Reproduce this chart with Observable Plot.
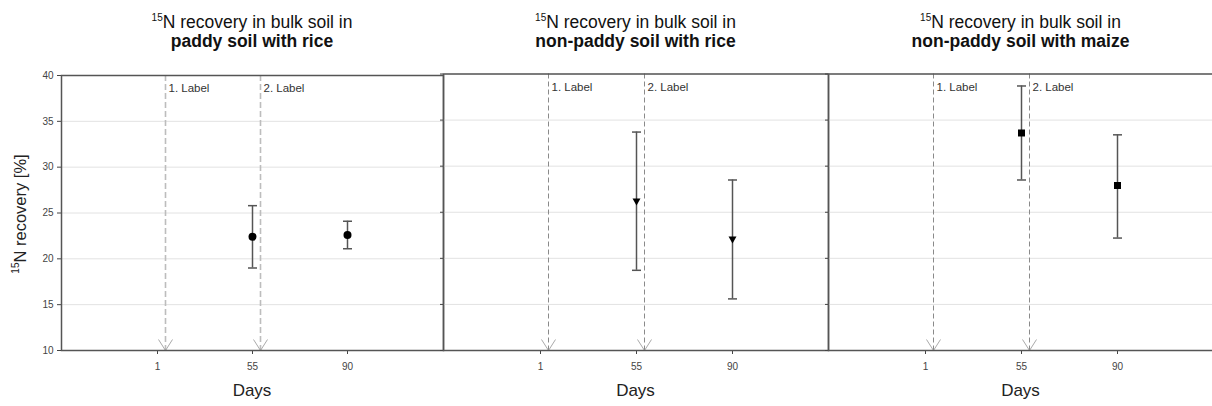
<!DOCTYPE html>
<html><head><meta charset="utf-8">
<script src="https://cdn.jsdelivr.net/npm/d3@7"></script>
<script src="https://cdn.jsdelivr.net/npm/@observablehq/plot@0.6"></script>
<style>
body{margin:0;background:#fff;font-family:"Liberation Sans",Arial,sans-serif;}
#root{position:relative;width:1212px;height:406px;overflow:hidden;background:#fff;}
.title{position:absolute;top:13px;text-align:center;font-size:17.5px;line-height:18.5px;color:#111;white-space:nowrap;transform:translateX(-50%);}
.title sup,.ylab sup{font-size:10px;vertical-align:0;position:relative;top:-7px;line-height:0;}
.title b{font-weight:bold;}
.xlab{position:absolute;top:381.5px;font-size:17px;line-height:17px;color:#222;white-space:nowrap;transform:translateX(-50%);}
.ylab{position:absolute;left:20px;top:214px;font-size:16.5px;line-height:18px;color:#222;white-space:nowrap;transform:translate(-50%,-50%) rotate(-90deg);}
.panel{position:absolute;top:60px;}
</style></head><body><div id="root"></div>
<script>
// ---- data ----
const days = ["1", "55", "90"];
const labelDays = ["1", "55"];
const labelTexts = ["1. Label", "2. Label"];
const panelTitles = ["paddy soil with rice", "non-paddy soil with rice", "non-paddy soil with maize"];
const titlePrefix = "N recovery in bulk soil in";
const yTicks = [10, 15, 20, 25, 30, 35, 40];
const sampleDays = ["55", "90"];
const meanPaddyRice = [22.4, 22.6];
const loPaddyRice = [19.0, 21.1];
const hiPaddyRice = [25.8, 24.1];
const meanNonPaddyRice = [26.1, 22.0];
const loNonPaddyRice = [18.7, 15.6];
const hiNonPaddyRice = [33.7, 28.5];
const meanNonPaddyMaize = [33.6, 27.9];
const loNonPaddyMaize = [28.5, 22.2];
const hiNonPaddyMaize = [38.7, 33.4];

// ---- layout ----
const root = document.getElementById("root");
const series = [
  {mean: meanPaddyRice, lo: loPaddyRice, hi: hiPaddyRice},
  {mean: meanNonPaddyRice, lo: loNonPaddyRice, hi: hiNonPaddyRice},
  {mean: meanNonPaddyMaize, lo: loNonPaddyMaize, hi: hiNonPaddyMaize}
];
const lefts = [0, 443, 828];
const widths = [443, 385, 385];
const marginLefts = [61, 0, 0];
const marginTops = [15, 13.5, 13.5];

const capSym = {draw(c) { c.moveTo(-4.5, 0); c.lineTo(4.5, 0); }};
const vSym = {draw(c) { c.moveTo(-7, -11); c.lineTo(0, 0); c.lineTo(7, -11); }};
const triDown = {draw(c) { c.moveTo(-4, -3.5); c.lineTo(4, -3.5); c.lineTo(0, 3.5); c.closePath(); }};
const square = {draw(c) { c.rect(-3.5, -3.5, 7, 7); }};
const markerSyms = ["circle", triDown, square];

series.forEach((s, i) => {
  const rows = sampleDays.map((d, j) => ({day: d, mean: s.mean[j], lo: s.lo[j], hi: s.hi[j]}));
  const first = i === 0;
  const chart = Plot.plot({
    width: widths[i],
    height: 346,
    marginTop: marginTops[i],
    marginBottom: 56,
    marginLeft: marginLefts[i],
    marginRight: 0,
    style: {background: "transparent", overflow: "visible", fontSize: "10px",
            fontFamily: "'Liberation Sans', Arial, sans-serif", color: "#444"},
    x: {type: "point", domain: days, padding: 1, tickSize: 4, tickPadding: 8, label: null},
    y: {domain: [yTicks[0], yTicks[yTicks.length - 1]], ticks: yTicks, tickSize: first ? 4 : 3,
        tickPadding: 4, tickFormat: first ? (d => String(d)) : (() => ""), label: null},
    marks: [
      Plot.ruleY(yTicks, {stroke: "#e2e2e2", strokeWidth: 1}),
      Plot.ruleX(labelDays, {x: d => d, dx: 8, stroke: first ? "#bdbdbd" : "#8a8a8a",
        strokeWidth: first ? 1.6 : 1, strokeDasharray: first ? "6,3" : "5,3"}),
      Plot.dot(labelDays, {x: d => d, y: () => yTicks[0], dx: 8, symbol: vSym,
        stroke: "#aaa", fill: "none", strokeWidth: 1}),
      Plot.text(labelDays, {x: d => d, y: () => yTicks[yTicks.length - 1], dx: 11, dy: 13,
        text: (d, k) => labelTexts[k], textAnchor: "start", fontSize: 11.5, fill: "#333"}),
      Plot.ruleX(rows, {x: "day", y1: "lo", y2: "hi", stroke: "#555", strokeWidth: 1.5}),
      Plot.dot(rows, {x: "day", y: "lo", symbol: capSym, stroke: "#555", strokeWidth: 1.5, fill: "none"}),
      Plot.dot(rows, {x: "day", y: "hi", symbol: capSym, stroke: "#555", strokeWidth: 1.5, fill: "none"}),
      Plot.dot(rows, {x: "day", y: "mean", symbol: markerSyms[i], r: 4, fill: "#000", stroke: "none"}),
      Plot.frame({stroke: "#555", strokeWidth: 1.5})
    ]
  });
  const wrap = document.createElement("div");
  wrap.className = "panel";
  wrap.style.left = lefts[i] + "px";
  wrap.style.width = widths[i] + "px";
  wrap.appendChild(chart);
  root.appendChild(wrap);

  const cx = lefts[i] + marginLefts[i] + (widths[i] - marginLefts[i]) / 2;
  const t = document.createElement("div");
  t.className = "title";
  t.style.left = cx + "px";
  t.innerHTML = "<sup>15</sup>" + titlePrefix + "<br><b>" + panelTitles[i] + "</b>";
  root.appendChild(t);

  const xl = document.createElement("div");
  xl.className = "xlab";
  xl.style.left = cx + "px";
  xl.textContent = "Days";
  root.appendChild(xl);
});

const yl = document.createElement("div");
yl.className = "ylab";
yl.innerHTML = "<sup>15</sup>N recovery [%]";
root.appendChild(yl);
</script>
</body></html>
